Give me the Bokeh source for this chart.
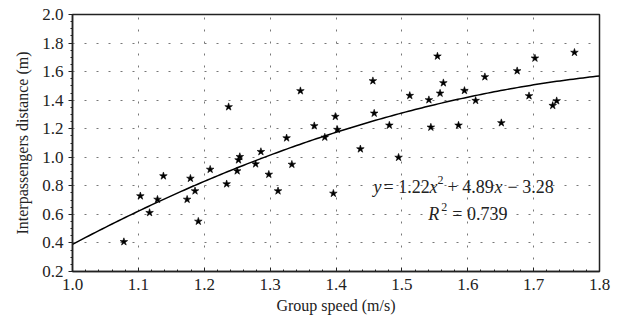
import numpy as np
from bokeh.plotting import figure
from bokeh.models import Range1d, FixedTicker, Label, NumeralTickFormatter
from bokeh.embed import file_html
from bokeh.resources import INLINE

# Observed data (group speed in m/s, interpassenger distance in m)
speed = [1.078, 1.103, 1.117, 1.138, 1.129, 1.174, 1.179, 1.186, 1.191, 1.209,
         1.234, 1.250, 1.252, 1.254, 1.278, 1.286, 1.298, 1.312, 1.325, 1.333,
         1.383, 1.396, 1.237, 1.346, 1.367, 1.399, 1.402, 1.456, 1.512, 1.541,
         1.554, 1.558, 1.563, 1.595, 1.458, 1.437, 1.481, 1.495, 1.544, 1.586,
         1.612, 1.626, 1.651, 1.675, 1.693, 1.702, 1.729, 1.735, 1.762]
distance = [0.408, 0.729, 0.612, 0.869, 0.705, 0.705, 0.852, 0.764, 0.551, 0.915,
            0.813, 0.904, 0.981, 1.004, 0.953, 1.039, 0.880, 0.764, 1.135, 0.950,
            1.140, 0.747, 1.353, 1.465, 1.220, 1.285, 1.194, 1.535, 1.432, 1.402,
            1.708, 1.448, 1.521, 1.467, 1.308, 1.058, 1.224, 0.999, 1.210, 1.224,
            1.397, 1.563, 1.241, 1.605, 1.430, 1.694, 1.362, 1.395, 1.734]

# Quadratic trend line coefficients (a*x^2 + b*x + c)
fit_coef = [-1.22, 4.89, -3.28]
fit_range = [1.0, 1.8]

x_ticks = [1.0, 1.1, 1.2, 1.3, 1.4, 1.5, 1.6, 1.7, 1.8]
y_ticks = [0.2, 0.4, 0.6, 0.8, 1.0, 1.2, 1.4, 1.6, 1.8, 2.0]

FONT = "Liberation Serif"
INK = "#222222"

p = figure(width=624, height=330, output_backend="svg", toolbar_location=None,
           x_range=Range1d(1.0, 1.8), y_range=Range1d(0.2, 2.0),
           min_border_left=72, min_border_right=25, min_border_top=14,
           min_border_bottom=59, background_fill_color="white",
           border_fill_color="white")

# trend line
xf = np.linspace(fit_range[0], fit_range[1], 161)
yf = np.polyval(fit_coef, xf)
p.line(xf, yf, line_color="black", line_width=1.5)

# points
p.scatter(speed, distance, marker="star", size=8, fill_color="black",
          line_color="black", line_width=0.6)

# axes
p.xaxis.ticker = FixedTicker(ticks=x_ticks, minor_ticks=[round(1.0 + 0.02 * i, 2) for i in range(41)])
p.yaxis.ticker = FixedTicker(ticks=y_ticks, minor_ticks=[round(0.2 + 0.05 * i, 2) for i in range(37)])
p.xaxis.formatter = NumeralTickFormatter(format="0.0")
p.yaxis.formatter = NumeralTickFormatter(format="0.0")

p.xaxis.axis_label = "Group speed (m/s)"
p.yaxis.axis_label = "Interpassengers distance (m)"

for ax in (p.xaxis[0], p.yaxis[0]):
    ax.axis_line_color = INK
    ax.axis_line_width = 1.5
    ax.major_tick_line_color = INK
    ax.minor_tick_line_color = INK
    ax.major_label_text_font = FONT
    ax.major_label_text_font_size = "17px"
    ax.major_label_text_color = INK
    ax.axis_label_text_font = FONT
    ax.axis_label_text_font_size = "16px"
    ax.axis_label_text_font_style = "normal"
    ax.axis_label_text_color = INK

p.xaxis.major_tick_in = 4
p.xaxis.major_tick_out = 0
p.xaxis.minor_tick_in = 2
p.xaxis.minor_tick_out = 0
p.xaxis.major_label_standoff = 7
p.xaxis.axis_label_standoff = 4

p.yaxis.major_tick_in = 0
p.yaxis.major_tick_out = 4
p.yaxis.minor_tick_in = 0
p.yaxis.minor_tick_out = 2
p.yaxis.major_label_standoff = 5
p.yaxis.axis_label_standoff = 8

# grid
p.xgrid.ticker = FixedTicker(ticks=x_ticks[1:-1])
p.ygrid.ticker = FixedTicker(ticks=y_ticks[1:-1])
for g in (p.xgrid[0], p.ygrid[0]):
    g.grid_line_color = "#777777"
    g.grid_line_dash = "2 10"
    g.grid_line_width = 1

p.outline_line_color = INK
p.outline_line_width = 1.5
p.outline_line_alpha = 1.0


def add_piece(x, y, txt, style, off, size="18px", yoff=0):
    p.add_layout(Label(x=x, y=y, x_offset=off, y_offset=yoff, text=txt, text_font=FONT,
                       text_font_style=style, text_font_size=size,
                       text_color=INK, text_baseline="alphabetic", text_align="left"))


# equation annotation
eq_x, eq_y = 1.457, 0.794
add_piece(eq_x, eq_y, "y", "italic", 0)
add_piece(eq_x, eq_y, "= 1.22", "normal", 10)
add_piece(eq_x, eq_y, "x", "italic", 56)
add_piece(eq_x, eq_y, "2", "normal", 64, size="12px", yoff=7)
add_piece(eq_x, eq_y, "+ 4.89", "normal", 74)
add_piece(eq_x, eq_y, "x", "italic", 121)
add_piece(eq_x, eq_y, "\u2212 3.28", "normal", 134)

r_x, r_y = 1.540, 0.605
add_piece(r_x, r_y, "R", "italic", 0)
add_piece(r_x, r_y, "2", "normal", 13, size="12px", yoff=7)
add_piece(r_x, r_y, "= 0.739", "normal", 24)

open("out.html", "w").write(file_html(p, INLINE))
